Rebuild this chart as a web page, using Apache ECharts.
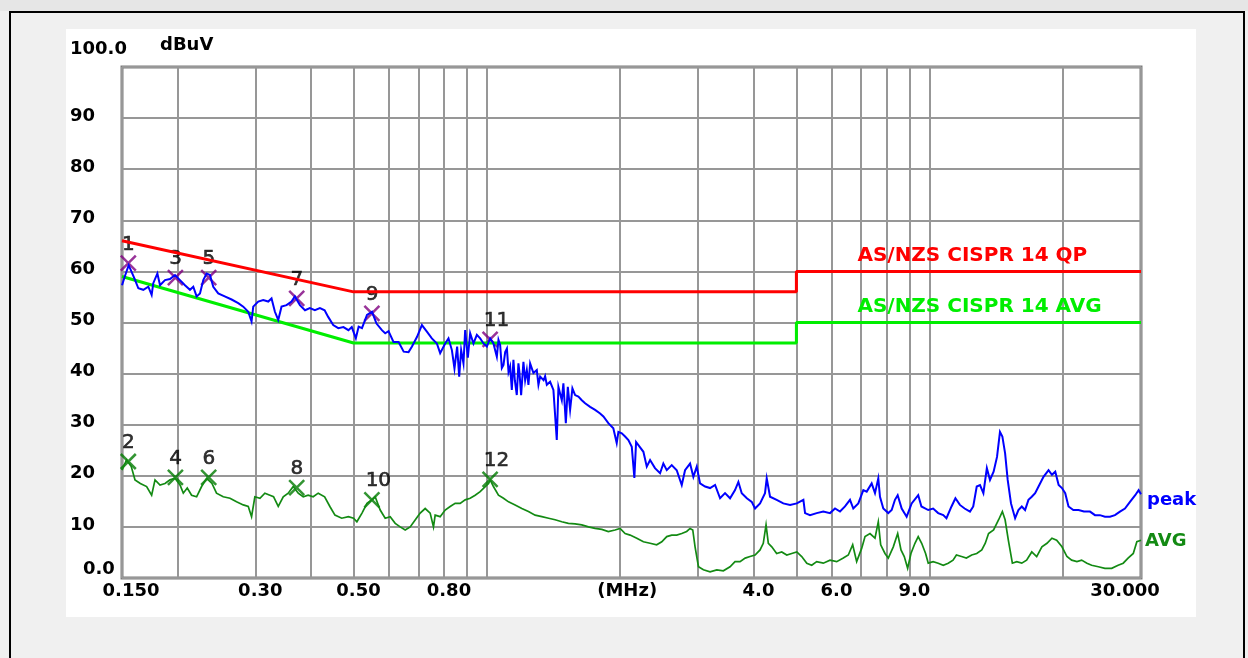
<!DOCTYPE html>
<html>
<head>
<meta charset="utf-8">
<script src="https://cdn.jsdelivr.net/npm/echarts@6/dist/echarts.min.js"></script>
<style>
  html, body { margin: 0; padding: 0; background: #f0f0f0; }
  #strip { position: absolute; left: 0; top: 0; width: 1248px; height: 11px; background: #e6e6e6; }
  #border { position: absolute; left: 9px; top: 11px; width: 1232px; height: 660px;
            border-left: 2px solid #000; border-top: 2px solid #000; border-right: 2px solid #000; }
  #paper { position: absolute; left: 66px; top: 29px; width: 1130px; height: 588px; background: #fff; }
  #chart { position: absolute; left: 0; top: 0; width: 1248px; height: 658px; }
</style>
</head>
<body>
<div id="strip"></div>
<div id="border"></div>
<div id="paper"></div>
<div id="chart"></div>
<script>
// Conducted emission scan, 150 kHz - 30 MHz, levels in dBuV

// frequencies (MHz) of the vertical grid lines
const gridFreqs = [0.15, 0.2, 0.3, 0.4, 0.5, 0.6, 0.7, 0.8, 0.9, 1, 2, 3, 4, 5, 6, 7, 8, 9, 10, 20, 30];
// labelled frequencies and their texts
const xTickValues = [0.15, 0.3, 0.5, 0.8, 2, 4, 6, 9, 30];
const xTickLabels = ['0.150', '0.30', '0.50', '0.80', '(MHz)', '4.0', '6.0', '9.0', '30.000'];

// limit lines [MHz, dBuV]
const qpLimit  = [[0.15, 66], [0.5, 56], [5, 56], [5, 60], [30, 60]];
const avgLimit = [[0.15, 59], [0.5, 46], [5, 46], [5, 50], [30, 50]];
const qpLimitName  = 'AS/NZS CISPR 14 QP';
const avgLimitName = 'AS/NZS CISPR 14 AVG';

// peak detector trace [MHz, dBuV]
const peakTrace = [
  [0.150,57.3],[0.1526,59.3],[0.1553,61.2],[0.1566,60.5],[0.1599,58.7],[0.1633,56.7],[0.1676,56.4],[0.1720,57.0],
  [0.1750,55.4],[0.1765,57.7],[0.1803,59.6],[0.1828,57.3],[0.1876,58.3],[0.1925,58.5],[0.1976,59.3],[0.2028,58.3],
  [0.2081,57.3],[0.2136,56.4],[0.2173,57.0],[0.2211,55.1],[0.2250,55.7],[0.2289,58.3],[0.2329,59.6],[0.2370,59.3],
  [0.2411,57.0],[0.2474,55.7],[0.2559,55.1],[0.2652,54.5],[0.2745,53.8],[0.2818,53.1],[0.2892,52.1],[0.2942,50.2],
  [0.2968,53.1],[0.3046,54.1],[0.3126,54.4],[0.3209,54.1],[0.3264,54.7],[0.3322,52.1],[0.3380,50.5],[0.3438,53.1],
  [0.3529,53.4],[0.3621,54.1],[0.3685,55.1],[0.3783,53.4],[0.3885,52.4],[0.3984,52.8],[0.4089,52.4],[0.4198,52.8],
  [0.4302,52.4],[0.4382,51.1],[0.4498,49.5],[0.4619,48.9],[0.4744,49.1],[0.4869,48.5],[0.4954,49.1],[0.5060,46.9],
  [0.5134,49.2],[0.5224,48.9],[0.5362,51.5],[0.5504,52.1],[0.5634,49.8],[0.5794,48.5],[0.5894,47.9],[0.5997,48.3],
  [0.6154,46.2],[0.6319,46.2],[0.6489,44.3],[0.6655,44.2],[0.6775,45.3],[0.6956,47.2],[0.7133,49.5],[0.7321,48.2],
  [0.7512,46.9],[0.7711,45.9],[0.7844,44.0],[0.8051,45.9],[0.8191,46.9],[0.8337,44.6],[0.8450,41.0],[0.8568,45.3],
  [0.8660,39.4],[0.8748,44.6],[0.8855,42.0],[0.8933,48.5],[0.9059,43.1],[0.9168,47.9],[0.9327,45.9],[0.9493,47.6],
  [0.9657,46.9],[0.9828,45.9],[1.000,45.3],[1.0172,46.9],[1.0348,45.9],[1.0532,43.3],[1.0622,46.6],[1.0715,45.6],
  [1.0810,41.1],[1.0903,41.7],[1.0999,44.2],[1.1099,44.9],[1.1192,40.3],[1.1286,41.4],[1.1386,36.8],[1.1481,42.7],
  [1.1565,38.7],[1.1683,35.8],[1.1783,42.0],[1.1845,40.3],[1.1950,35.8],[1.2094,42.3],[1.2201,38.7],[1.2309,40.7],
  [1.2413,37.8],[1.2523,42.0],[1.2740,40.1],[1.2965,40.7],[1.3076,37.8],[1.3191,39.4],[1.3430,38.7],[1.3538,39.5],
  [1.3658,37.8],[1.3894,38.4],
  [1.4134,36.8],[1.4384,27.0],[1.4507,37.4],[1.4764,34.8],[1.4887,38.1],[1.5077,30.3],[1.5233,37.4],[1.5416,32.9],
  [1.5601,37.1],[1.5822,35.8],[1.6096,35.5],[1.6381,34.8],[1.6666,34.2],[1.7105,33.5],[1.7555,32.9],[1.8018,32.2],
  [1.8330,31.6],[1.8805,30.3],[1.9300,29.3],[1.9644,26.4],[1.9816,28.6],[2.0168,28.3],[2.0518,27.7],[2.0873,27.0],
  [2.1243,25.7],[2.1531,19.6],[2.1726,26.6],[2.1989,26.0],[2.2567,24.7],[2.2966,21.8],[2.3365,23.1],[2.3968,21.5],
  [2.4612,20.5],[2.5034,22.4],[2.5482,21.1],[2.6150,22.1],[2.6837,21.1],[2.7547,18.2],[2.8024,21.1],[2.8765,22.4],
  [2.9263,19.8],[2.9781,21.8],[3.030,18.5],[3.110,17.9],[3.192,17.6],[3.276,18.2],[3.362,15.6],[3.450,16.6],
  [3.541,15.6],[3.634,17.2],[3.698,18.8],[3.763,16.6],[3.864,15.6],[3.964,14.9],[4.033,13.6],[4.139,14.6],
  [4.247,16.6],[4.285,19.5],[4.360,15.9],[4.512,15.3],[4.671,14.6],[4.837,14.3],[5.010,14.6],[5.185,15.3],
  [5.230,12.7],[5.367,12.3],[5.556,12.7],[5.750,13.0],[5.955,12.7],[6.112,13.6],[6.273,13.0],[6.437,14.0],
  [6.607,15.3],[6.721,13.6],[6.899,14.6],[7.081,17.2],[7.206,16.9],[7.395,18.5],[7.524,16.6],[7.654,19.5],
  [7.722,15.9],[7.856,13.6],[8.063,12.7],[8.206,13.3],[8.347,15.3],[8.466,16.2],[8.644,13.6],[8.870,12.0],
  [9.105,14.6],[9.420,16.2],[9.578,14.0],[9.924,13.3],[10.18,13.6],[10.45,12.7],[10.73,12.3],[10.91,11.7],
  [11.20,14.0],[11.43,15.6],[11.70,14.3],[11.99,13.6],[12.33,13.0],[12.54,14.0],[12.77,17.9],[12.99,18.2],
  [13.22,16.6],[13.46,21.5],[13.68,19.2],[13.94,20.8],[14.19,23.7],[14.41,28.6],[14.59,27.7],[14.80,24.4],
  [15.00,19.2],[15.26,14.6],[15.59,11.7],[15.86,13.3],[16.14,14.0],[16.42,13.3],[16.71,15.3],[17.00,15.9],
  [17.30,16.6],[17.61,17.9],[18.07,19.8],[18.55,21.1],[18.88,20.2],[19.21,20.8],[19.55,18.2],[19.89,17.6],
  [20.23,16.6],[20.58,14.0],[21.10,13.3],[21.68,13.3],[22.30,13.0],[23.01,13.0],[23.62,12.3],[24.23,12.3],
  [24.87,12.0],[25.53,12.0],[26.20,12.3],[26.89,13.0],[27.60,13.6],[28.33,14.9],[29.11,16.2],[29.63,17.2],
  [30.0,16.4]
];

// average detector trace [MHz, dBuV]
const avgTrace = [
  [0.150,21.1],[0.1536,23.1],[0.1553,22.5],[0.1574,21.8],[0.1605,19.2],[0.165,18.5],[0.1705,17.9],[0.1750,16.2],
  [0.1781,19.2],[0.1828,18.2],[0.1876,18.5],[0.1925,19.2],[0.1976,19.5],[0.2028,18.2],[0.2063,16.6],[0.2106,17.6],
  [0.2154,16.2],[0.2211,15.9],[0.2269,17.9],[0.2329,19.5],[0.2395,18.5],[0.2452,16.6],[0.2539,15.9],[0.2630,15.6],
  [0.2721,14.9],[0.2818,14.3],[0.2892,14.0],[0.2942,12.0],[0.2993,15.9],[0.3073,15.6],[0.3153,16.6],[0.3237,16.2],
  [0.3298,15.9],[0.3380,14.0],[0.3469,15.9],[0.3560,16.6],[0.3654,17.9],[0.3750,16.6],[0.3849,15.9],[0.3949,16.2],
  [0.4053,15.9],[0.4161,16.6],[0.4302,15.9],[0.4421,14.0],[0.4539,12.3],[0.4701,11.7],[0.4869,12.0],[0.5000,11.7],
  [0.5087,11.0],[0.5224,12.7],[0.5362,14.6],[0.5504,15.3],[0.5595,15.9],[0.5743,13.3],[0.5894,11.7],[0.6049,12.0],
  [0.6209,10.7],[0.6372,10.0],[0.6540,9.4],[0.6712,10.0],[0.6894,11.4],[0.7070,12.7],[0.7256,13.6],[0.7447,12.7],
  [0.7576,10.0],[0.7643,12.3],[0.7844,12.0],[0.8051,13.3],[0.8263,14.0],[0.8480,14.6],[0.8703,14.6],[0.8933,15.3],
  [0.9168,15.6],[0.9410,16.2],[0.9657,16.9],[0.9916,17.9],[1.0090,18.5],[1.0172,19.2],[1.0348,17.9],[1.0622,16.2],
  [1.0903,15.6],[1.1192,14.9],[1.1583,14.3],[1.1994,13.6],[1.2413,13.0],[1.2852,12.3],[1.3308,12.0],[1.3787,11.7],
  [1.4259,11.4],[1.4764,11.0],[1.5280,10.7],[1.5822,10.6],[1.6381,10.4],[1.6958,10.0],[1.7555,9.7],[1.8178,9.5],
  [1.8805,9.1],[1.9472,9.4],[1.9992,9.7],[2.0518,8.7],[2.1058,8.4],[2.1804,7.8],[2.2567,7.1],[2.3365,6.8],
  [2.4179,6.5],[2.4830,7.1],[2.5482,8.1],[2.6150,8.4],[2.6837,8.4],[2.7547,8.7],[2.8262,9.1],[2.8765,9.7],
  [2.9171,9.4],[2.9521,6.1],[3.005,2.2],[3.083,1.6],[3.192,1.2],[3.305,1.6],[3.420,1.4],[3.541,2.2],
  [3.634,3.2],[3.730,3.2],[3.831,3.9],[3.929,4.2],[4.033,4.5],[4.139,5.5],[4.209,6.8],[4.270,10.4],
  [4.321,6.8],[4.399,6.1],[4.512,4.8],[4.633,5.1],[4.756,4.5],[4.880,4.8],[5.010,5.1],[5.140,4.2],
  [5.278,2.9],[5.415,2.5],[5.556,3.2],[5.750,2.9],[5.955,3.5],[6.166,3.2],[6.381,3.9],[6.549,4.5],
  [6.700,6.5],[6.840,3.2],[7.020,5.8],[7.144,8.1],[7.331,8.7],[7.524,7.8],[7.654,11.0],[7.750,6.5],
  [7.925,4.8],[8.063,3.9],[8.275,6.1],[8.466,8.7],[8.613,5.5],[8.761,4.2],[8.916,1.9],[9.071,4.8],
  [9.261,6.8],[9.420,8.1],[9.591,6.8],[9.788,4.8],[9.924,2.9],[10.18,3.2],[10.45,2.9],[10.73,2.5],
  [11.01,2.9],[11.29,3.5],[11.49,4.5],[11.80,4.2],[12.10,3.9],[12.44,4.5],[12.77,4.8],[13.11,5.5],
  [13.35,6.8],[13.58,8.7],[13.94,9.4],[14.31,11.4],[14.59,13.0],[14.80,11.4],[15.05,7.4],[15.37,2.9],
  [15.72,3.2],[16.14,2.9],[16.55,3.5],[17.00,5.1],[17.44,4.2],[17.92,6.1],[18.40,6.8],[18.88,7.8],
  [19.35,7.4],[19.89,6.1],[20.41,4.2],[20.92,3.5],[21.50,3.2],[22.03,3.5],[22.65,2.9],[23.21,2.5],
  [24.03,2.2],[24.87,1.9],[25.76,1.9],[26.64,2.5],[27.35,2.9],[28.05,3.9],[28.82,4.8],[29.36,7.1],
  [30.0,7.4]
];

// numbered measurement points
const peakMarkIds = ['1', '3', '5', '7', '9', '11'];
const peakMarks   = [[0.155, 61.6], [0.198, 58.8], [0.2354, 58.8], [0.372, 54.7], [0.55, 51.8], [1.017, 46.7]];
const avgMarkIds  = ['2', '4', '6', '8', '10', '12'];
const avgMarks    = [[0.155, 22.8], [0.198, 19.7], [0.2354, 19.7], [0.372, 17.7], [0.55, 15.3], [1.017, 19.3]];

const FONT = 'DejaVu Sans';
const CROSS = 'path://M0,0L10,10M10,0L0,10';

function boldText(size, color) {
  return { fontFamily: FONT, fontWeight: 'bold', fontSize: size, color: color || '#000' };
}

function markSeries(ids, marks, color) {
  return {
    type: 'scatter',
    data: marks.map((m, i) => ({ name: ids[i], value: m })),
    symbol: CROSS,
    symbolSize: 15,
    itemStyle: { color: 'rgba(0,0,0,0)', borderColor: color, borderWidth: 2.5 },
    label: {
      show: true, formatter: '{b}', position: [2.5, -10], align: 'left', verticalAlign: 'middle',
      fontFamily: FONT, fontSize: 20, color: '#000', textBorderColor: '#000', textBorderWidth: 0.6
    },
    silent: true
  };
}

function limitLabel(text, coord, color) {
  return {
    silent: true, symbol: 'circle', symbolSize: 1, itemStyle: { color: 'rgba(0,0,0,0)' },
    data: [{ coord: coord }],
    label: Object.assign({ show: true, formatter: text, position: 'right', distance: 0, offset: [0, -16] }, boldText(20, color))
  };
}

const chart = echarts.init(document.getElementById('chart'), null, { renderer: 'canvas' });

chart.setOption({
  animation: false,
  grid: { left: 122, right: 107, top: 67, bottom: 80, show: true, borderColor: '#7d7d7d', borderWidth: 3, backgroundColor: 'transparent' },
  xAxis: {
    type: 'log', logBase: 10, min: 0.15, max: 30,
    axisLine: { show: false },
    axisTick: { show: false, customValues: gridFreqs },
    splitLine: { show: true, lineStyle: { color: '#979797', width: 2 } },
    axisLabel: {
      customValues: xTickValues,
      margin: 4,
      formatter: function (v) {
        const i = xTickValues.findIndex(t => Math.abs(t - v) < 1e-6 * t);
        if (i < 0) return '';
        const s = xTickLabels[i];
        if (i === 0) return '{f|' + s + '}';
        if (i === xTickValues.length - 1) return '{l|' + s + '}';
        if (s === '(MHz)') return '{u|' + s + '}';
        return '{n|' + s + '}';
      },
      rich: {
        n: Object.assign({ padding: [0, 0, 0, 10] }, boldText(18)),
        f: Object.assign({ padding: [0, 0, 0, 18] }, boldText(18)),
        l: Object.assign({ padding: [0, 32, 0, 0] }, boldText(18)),
        u: Object.assign({ padding: [0, 0, 0, 14] }, boldText(18))
      }
    }
  },
  yAxis: {
    type: 'value', min: 0, max: 100, interval: 10,
    name: 'dBuV', nameLocation: 'end', nameGap: 22,
    nameTextStyle: Object.assign({ align: 'left', verticalAlign: 'middle', padding: [0, 0, 0, 38] }, boldText(18)),
    axisLine: { show: false },
    axisTick: { show: false },
    splitLine: { show: true, lineStyle: { color: '#979797', width: 2 } },
    axisLabel: {
      margin: 52, align: 'left',
      formatter: function (v) {
        if (v === 100) return '{t|100.0}';
        if (v === 0) return '{z|0.0}';
        return '{n|' + v + '}';
      },
      rich: {
        t: Object.assign({ padding: [0, 0, 36, 0] }, boldText(18)),
        z: Object.assign({ padding: [0, 0, 18, 13] }, boldText(18)),
        n: Object.assign({ padding: [0, 0, 4, 0] }, boldText(18))
      }
    }
  },
  series: [
    {
      type: 'line', data: qpLimit, symbol: 'none', silent: true,
      lineStyle: { color: '#ff0000', width: 3 },
      markPoint: limitLabel(qpLimitName, [6.85, 60], '#ff0000')
    },
    {
      type: 'line', data: avgLimit, symbol: 'none', silent: true,
      lineStyle: { color: '#00ee00', width: 3 },
      markPoint: limitLabel(avgLimitName, [6.85, 50], '#00ee00')
    },
    markSeries(peakMarkIds, peakMarks, '#800080'),
    markSeries(avgMarkIds, avgMarks, '#007a00'),
    {
      type: 'line', data: avgTrace, symbol: 'none', silent: true,
      lineStyle: { color: '#138a13', width: 1.7, join: 'miter' },
      endLabel: Object.assign({ show: true, formatter: 'AVG', distance: 4, offset: [0, 1] }, boldText(18, '#138a13'))
    },
    {
      type: 'line', data: peakTrace, symbol: 'none', silent: true,
      lineStyle: { color: '#0000ff', width: 2, join: 'miter' },
      endLabel: Object.assign({ show: true, formatter: 'peak', distance: 6, offset: [0, 6] }, boldText(18, '#0000ff'))
    }
  ]
});
</script>
</body>
</html>
